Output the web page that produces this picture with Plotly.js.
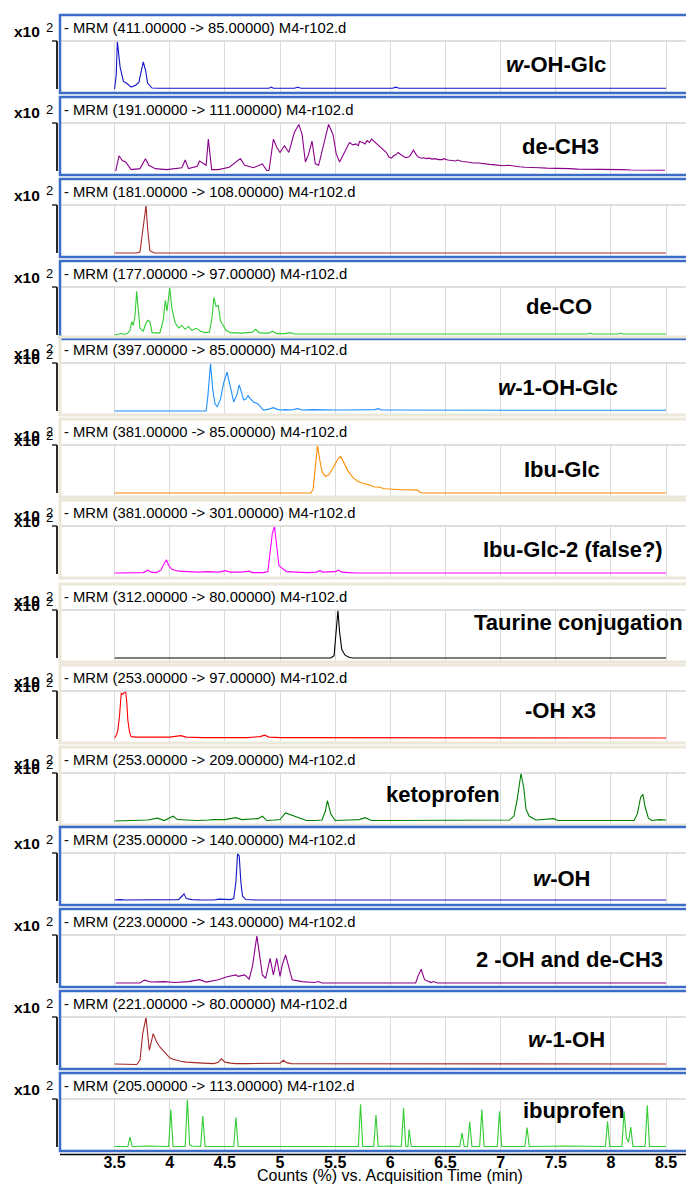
<!DOCTYPE html>
<html>
<head>
<meta charset="utf-8">
<script src="https://cdn.plot.ly/plotly-3.0.1.min.js"></script>
<style>html,body{margin:0;padding:0;background:#fff;}#chart{width:686px;height:1184px;}</style>
</head>
<body>
<div id="chart"></div>
<script>
// ---------------- DATA ----------------
const headers = [
  "- MRM (411.00000 -> 85.00000) M4-r102.d",
  "- MRM (191.00000 -> 111.00000) M4-r102.d",
  "- MRM (181.00000 -> 108.00000) M4-r102.d",
  "- MRM (177.00000 -> 97.00000) M4-r102.d",
  "- MRM (397.00000 -> 85.00000) M4-r102.d",
  "- MRM (381.00000 -> 85.00000) M4-r102.d",
  "- MRM (381.00000 -> 301.00000) M4-r102.d",
  "- MRM (312.00000 -> 80.00000) M4-r102.d",
  "- MRM (253.00000 -> 97.00000) M4-r102.d",
  "- MRM (253.00000 -> 209.00000) M4-r102.d",
  "- MRM (235.00000 -> 140.00000) M4-r102.d",
  "- MRM (223.00000 -> 143.00000) M4-r102.d",
  "- MRM (221.00000 -> 80.00000) M4-r102.d",
  "- MRM (205.00000 -> 113.00000) M4-r102.d"
];
const labels = [
  "<i>w</i>-OH-Glc", "de-CH3", "", "de-CO", "<i>w</i>-1-OH-Glc", "Ibu-Glc",
  "Ibu-Glc-2 (false?)", "Taurine conjugation", "-OH x3", "ketoprofen",
  "<i>w</i>-OH", "2 -OH and de-CH3", "<i>w</i>-1-OH", "ibuprofen"
];
const xTicks = [3.5, 4, 4.5, 5, 5.5, 6, 6.5, 7, 7.5, 8, 8.5];
const xTickText = ["3.5","4","4.5","5","5.5","6","6.5","7","7.5","8","8.5"];
const xTitle = "Counts (%) vs. Acquisition Time (min)";
const scaleText = "x10";
const scaleExp = "2";

// each trace: [time (min), counts (%)]
const p1 = [[3.50,0],[3.515,30],[3.525,100],[3.55,46],[3.58,16],[3.61,12],[3.65,4],[3.69,8],[3.72,14],[3.74,35],[3.76,57],[3.78,40],[3.80,12],[3.84,2],[3.90,1.5],[4.2,1.5],[4.5,1.5],[4.90,1.5],[4.92,4],[4.94,1.5],[5.13,1.5],[5.16,3.5],[5.19,1.5],[5.5,1.5],[6.02,1.5],[6.05,4],[6.08,1.5],[6.5,1.5],[7.0,1.5],[7.5,1.5],[8.0,1.5],[8.5,1.5]];
const p2 = [[3.51,0],[3.54,32],[3.57,22],[3.60,19],[3.65,3],[3.73,5],[3.78,26],[3.81,12],[3.87,5],[3.97,3],[4.11,7],[4.14,23],[4.17,5],[4.25,10],[4.27,21],[4.31,15],[4.33,12],[4.35,67],[4.38,3],[4.44,3],[4.54,8],[4.64,26],[4.68,12],[4.76,7],[4.84,15],[4.88,1],[4.90,1],[4.94,67],[4.97,50],[5.00,39],[5.04,53],[5.08,39],[5.13,81],[5.17,98],[5.20,77],[5.23,19],[5.26,36],[5.29,63],[5.32,15],[5.35,12],[5.38,43],[5.42,81],[5.44,98],[5.48,77],[5.51,36],[5.54,19],[5.58,36],[5.61,52],[5.63,60],[5.66,55],[5.69,57],[5.71,53],[5.72,62],[5.75,60],[5.77,57],[5.79,64],[5.81,60],[5.83,67],[5.85,63],[5.87,57],[5.90,52],[5.93,46],[5.96,40],[5.99,29],[6.01,27],[6.03,32],[6.05,34],[6.07,39],[6.09,35],[6.11,32],[6.14,28],[6.17,30],[6.19,36],[6.21,44],[6.23,36],[6.25,30],[6.28,27],[6.30,28],[6.33,26],[6.35,27],[6.38,25],[6.40,26],[6.44,24],[6.47,24],[6.49,26],[6.52,23],[6.56,22],[6.59,21],[6.61,23],[6.65,20],[6.70,19],[6.75,17],[6.80,17],[6.85,15],[6.90,14],[6.95,13],[7.00,12],[7.02,11],[7.07,12],[7.12,10],[7.17,9],[7.22,8],[7.28,8],[7.35,7],[7.42,6],[7.48,6],[7.54,5],[7.62,5],[7.70,4],[7.75,4],[7.85,4],[7.93,3],[8.02,3],[8.10,3],[8.18,2],[8.25,2],[8.35,2],[8.49,1.5]];
const p3 = [[3.50,0],[3.70,0],[3.73,2],[3.76,60],[3.785,100],[3.80,50],[3.82,5],[3.86,0],[4.5,0],[5.5,0],[6.5,0],[7.5,0],[8.5,0]];
const p4 = [[3.50,0],[3.53,2],[3.56,3],[3.59,1],[3.62,4],[3.64,10],[3.655,28],[3.67,20],[3.685,40],[3.70,92],[3.715,45],[3.73,14],[3.76,8],[3.78,22],[3.80,31],[3.82,28],[3.84,5],[3.87,4],[3.91,4],[3.94,30],[3.96,73],[3.975,50],[3.99,85],[4.00,100],[4.02,55],[4.05,25],[4.08,15],[4.11,20],[4.14,12],[4.17,18],[4.20,10],[4.24,14],[4.28,8],[4.32,5],[4.36,6],[4.385,40],[4.40,79],[4.42,60],[4.44,62],[4.46,30],[4.48,22],[4.51,10],[4.55,5],[4.60,4],[4.65,4],[4.70,5],[4.75,6],[4.78,12],[4.81,5],[4.85,4],[4.90,4],[4.93,8],[4.97,3],[5.05,3],[5.09,5],[5.13,2],[5.2,2],[5.4,2],[5.6,2],[5.8,2],[6.0,2],[6.2,2],[6.5,2],[7.0,2],[7.5,2],[7.79,2],[7.81,4],[7.83,2],[8.07,2],[8.09,4],[8.11,2],[8.5,2]];
const p5 = [[3.5,0],[4.0,0],[4.33,0],[4.345,30],[4.37,100],[4.39,45],[4.41,15],[4.43,9],[4.46,25],[4.49,60],[4.52,82],[4.55,50],[4.58,19],[4.61,35],[4.63,55],[4.65,40],[4.67,23],[4.69,25],[4.71,32],[4.73,26],[4.76,19],[4.80,15],[4.83,6],[4.85,2],[4.90,4],[4.94,7],[4.97,4],[5.00,2],[5.05,3],[5.10,2],[5.16,5],[5.20,2],[5.30,3],[5.40,2],[5.50,2],[5.60,2],[5.70,2],[5.80,2],[5.86,3],[5.89,5],[5.92,2],[6.0,2],[6.5,1.5],[7.0,1.5],[7.5,1.5],[8.0,1.5],[8.5,1.5]];
const p6 = [[3.5,0],[4.5,0],[5.0,0],[5.28,0],[5.30,8],[5.32,60],[5.34,100],[5.36,70],[5.38,45],[5.41,35],[5.44,38],[5.48,52],[5.52,70],[5.55,77],[5.58,62],[5.62,45],[5.66,33],[5.70,25],[5.75,20],[5.80,18],[5.85,13],[5.90,12],[5.95,9],[6.00,8],[6.05,7],[6.10,7],[6.15,7],[6.20,7],[6.25,6],[6.27,1],[6.30,0],[7.0,0],[8.5,0]];
const p7 = [[3.5,2],[3.7,2],[3.76,3],[3.80,8],[3.83,4],[3.88,3],[3.92,8],[3.95,22],[3.97,30],[3.99,18],[4.02,10],[4.08,6],[4.15,5],[4.25,4],[4.35,5],[4.45,4],[4.50,7],[4.55,4],[4.65,4],[4.72,6],[4.75,3],[4.85,3],[4.89,5],[4.91,40],[4.93,85],[4.95,100],[4.97,55],[4.99,18],[5.02,12],[5.06,5],[5.15,4],[5.25,3],[5.33,4],[5.36,7],[5.39,4],[5.50,5],[5.53,8],[5.56,4],[5.62,3],[5.7,2],[6.0,2],[6.5,2],[7.0,2],[7.5,2],[8.0,2],[8.5,2]];
const p8 = [[3.5,0],[5.0,0],[5.46,0],[5.49,5],[5.51,60],[5.525,100],[5.54,55],[5.56,18],[5.59,6],[5.63,1],[5.66,0],[6.5,0],[8.5,0]];
const p9 = [[3.50,2],[3.52,10],[3.53,19],[3.545,50],[3.56,96],[3.575,94],[3.59,99],[3.60,100],[3.61,80],[3.62,40],[3.635,15],[3.65,5],[3.7,4],[3.8,4],[3.9,3],[4.0,4],[4.1,7],[4.15,4],[4.3,3],[4.5,3],[4.7,3],[4.82,5],[4.86,8],[4.9,4],[5.0,3],[5.2,3],[5.5,3],[5.8,2],[6.0,3],[6.5,2],[7.0,2],[7.5,2],[8.0,2],[8.5,2]];
const p10 = [[3.5,0],[3.6,1],[3.7,1],[3.8,2],[3.89,6],[3.95,1],[4.03,10],[4.07,3],[4.15,2],[4.25,1],[4.35,2],[4.40,3],[4.5,3],[4.60,7],[4.65,3],[4.72,4],[4.8,5],[4.84,10],[4.88,1],[4.95,2],[5.0,3],[5.05,17],[5.10,13],[5.16,7],[5.24,1],[5.32,1],[5.38,2],[5.41,20],[5.43,43],[5.46,15],[5.50,1],[5.63,2],[5.72,3],[5.77,7],[5.83,1],[6.0,1],[6.2,1],[6.43,1],[6.7,1],[7.0,1],[7.08,2],[7.12,10],[7.15,45],[7.185,100],[7.21,70],[7.23,25],[7.26,10],[7.32,2],[7.48,5],[7.52,1],[7.8,1],[8.0,1],[8.21,1],[8.24,15],[8.27,50],[8.29,56],[8.31,30],[8.34,6],[8.37,1],[8.44,3],[8.5,2]];
const p11 = [[3.5,2],[3.55,3],[3.6,2],[3.7,2],[3.8,3],[3.9,2],[4.0,2],[4.08,3],[4.11,10],[4.13,15],[4.15,5],[4.2,3],[4.3,2],[4.4,2],[4.45,4],[4.5,3],[4.55,3],[4.58,5],[4.60,40],[4.615,100],[4.63,95],[4.645,40],[4.66,10],[4.69,3],[4.8,2],[5.0,2],[5.5,2],[6.0,2],[6.5,2],[7.0,2],[7.5,2],[8.0,2],[8.5,2]];
const p12 = [[3.51,0],[3.73,0],[3.77,6],[3.83,2],[3.95,3],[4.05,1],[4.17,3],[4.27,7],[4.33,2],[4.44,7],[4.52,13],[4.60,17],[4.62,14],[4.68,17],[4.72,8],[4.75,35],[4.79,99],[4.81,70],[4.84,17],[4.87,10],[4.89,35],[4.91,52],[4.94,17],[4.97,52],[5.00,14],[5.02,38],[5.05,59],[5.08,35],[5.11,7],[5.20,3],[5.31,1],[5.35,3],[5.38,0],[6.23,0],[6.25,14],[6.28,29],[6.31,7],[6.37,1],[6.39,3],[6.43,0],[7.0,0],[8.5,0]];
const p13 = [[3.5,2],[3.58,2],[3.65,1],[3.70,1],[3.73,10],[3.755,66],[3.785,100],[3.815,31],[3.85,66],[3.88,49],[3.91,38],[3.94,30],[3.97,22],[4.0,15],[4.03,12],[4.07,9],[4.1,8],[4.15,6],[4.2,5],[4.3,4],[4.4,3],[4.44,6],[4.47,13],[4.5,6],[4.55,4],[4.6,3],[4.7,3],[4.8,3],[4.9,3],[5.0,4],[5.03,10],[5.06,5],[5.1,3],[5.2,3],[5.3,2],[5.42,3],[5.5,2],[6.0,2],[6.5,2],[7.0,2],[7.5,2],[8.0,2],[8.5,2]];
const p14 = [[3.5,1],[3.62,1],[3.64,21],[3.66,1],[3.8,2],[3.99,1],[4.01,79],[4.03,1],[4.14,1],[4.16,100],[4.18,5],[4.2,2],[4.28,1],[4.30,65],[4.32,1],[4.5,2],[4.58,1],[4.60,62],[4.62,1],[5.0,1],[5.5,2],[5.71,1],[5.73,90],[5.75,1],[5.85,1],[5.87,67],[5.89,1],[6.0,2],[6.10,1],[6.12,82],[6.14,1],[6.16,1],[6.17,37],[6.19,1],[6.4,1],[6.63,1],[6.65,30],[6.67,1],[6.70,1],[6.72,53],[6.74,1],[6.81,1],[6.83,79],[6.85,1],[6.97,1],[6.99,75],[7.01,1],[7.22,1],[7.24,41],[7.26,1],[7.6,2],[7.95,1],[7.97,54],[7.99,1],[8.10,1],[8.12,75],[8.14,20],[8.16,10],[8.18,42],[8.20,1],[8.31,1],[8.33,88],[8.35,1],[8.5,1]];
const series = [p1,p2,p3,p4,p5,p6,p7,p8,p9,p10,p11,p12,p13,p14];

// ---------------- STYLE / LAYOUT ----------------
const colors = ["#1414c8","#8b008b","#a52a2a","#32cd32","#1e90ff","#ff8c00","#ff00ff","#000000","#ff0000","#008000","#1414c8","#8b008b","#a52a2a","#32cd32"];
const blueFrame = [true,true,true,true,false,false,false,false,false,false,true,true,true,true];
const tops = [15,97,179,261,337,419,500,584,665,747,827,909,991,1073];
const labelPos = [[556,64],[560,146],[0,0],[559,306],[558,387],[562,470],[573,549],[578,622],[560,710],[443,794],[561,878],[569,959],[566,1039],[573,1110]];
const W = 686, H = 1184, HDR = 26, PH = 78, LEFT = 60;
const px = v => v / W;
const py = v => 1 - v / H;
const SANS = "Liberation Sans, Arial, sans-serif";

const data = [], shapes = [], annotations = [];
const layout = {
  width: W, height: H, margin: {l:0, r:0, t:0, b:0},
  paper_bgcolor: "#fff", plot_bgcolor: "rgba(0,0,0,0)",
  showlegend: false, hovermode: false,
  font: {family: SANS, color: "#000"}
};

series.forEach((s, i) => {
  const n = i + 1;
  const xa = n === 1 ? "x" : "x" + n;
  const ya = n === 1 ? "y" : "y" + n;
  const T = tops[i];
  data.push({
    x: s.map(d => d[0]), y: s.map(d => d[1]),
    xaxis: xa, yaxis: ya, mode: "lines",
    line: {color: colors[i], width: 1.1}, hoverinfo: "skip"
  });
  const last = i === series.length - 1;
  layout[n === 1 ? "xaxis" : "xaxis" + n] = {
    domain: [px(LEFT), 1], anchor: ya, range: [3.005, 8.681],
    tickvals: xTicks, ticktext: xTickText, showgrid: true, gridcolor: "#dcdcdc", gridwidth: 1,
    zeroline: false, showline: false, ticks: "",
    showticklabels: last, tickfont: {size: 16, weight: "bold", family: SANS, color: "#000"},
    fixedrange: true
  };
  layout[n === 1 ? "yaxis" : "yaxis" + n] = {
    domain: [py(T + PH), py(T + HDR)], anchor: xa, range: [-8.4, 101],
    showgrid: false, zeroline: false, showticklabels: false, showline: false, ticks: "", fixedrange: true
  };
  // header divider
  shapes.push({type: "line", xref: "paper", yref: "paper", x0: px(LEFT), x1: 1.01, y0: py(T + HDR), y1: py(T + HDR), line: {color: "#d4d4d4", width: 1.5}});
  // panel frame
  shapes.push({type: "rect", xref: "paper", yref: "paper", x0: px(LEFT), x1: px(W + 6), y0: py(T + PH), y1: py(T),
    line: {color: blueFrame[i] ? "#3b6cc6" : "#ebe8da", width: blueFrame[i] ? 2.5 : 3}});
  // y bracket
  shapes.push({type: "line", xref: "paper", yref: "paper", x0: px(57), x1: px(57), y0: py(T + 74), y1: py(T + HDR), line: {color: "#2a2a2a", width: 2}});
  shapes.push({type: "line", xref: "paper", yref: "paper", x0: px(52), x1: px(57), y0: py(T + HDR), y1: py(T + HDR), line: {color: "#2a2a2a", width: 1.5}});
  // header text
  annotations.push({xref: "paper", yref: "paper", x: px(62), y: py(T + 13), xanchor: "left", yanchor: "middle",
    text: headers[i], showarrow: false, font: {size: 14.8, color: "#000"}});
  // scale text (x10 ^2); the reference draws it twice, slightly offset, on the grey-framed panels
  const offs = blueFrame[i] ? [0] : [0, 5];
  offs.forEach(o => {
    annotations.push({xref: "paper", yref: "paper", x: px(12), y: py(T + 16 + o), xanchor: "left", yanchor: "middle",
      text: "<b>" + scaleText + "</b>", showarrow: false, font: {size: 15.5, color: "#000"}});
    annotations.push({xref: "paper", yref: "paper", x: px(44), y: py(T + 12 + o), xanchor: "left", yanchor: "middle",
      text: scaleExp, showarrow: false, font: {size: 13, color: "#000"}});
  });
  // label
  if (labels[i]) annotations.push({xref: "paper", yref: "paper", x: px(labelPos[i][0]), y: py(labelPos[i][1]), xanchor: "center", yanchor: "middle",
    text: "<b>" + labels[i] + "</b>", showarrow: false,
    font: {size: 22, color: "#000", family: SANS}});
});
// bottom axis line
shapes.push({type: "line", xref: "paper", yref: "paper", x0: px(LEFT), x1: 1.01, y0: py(1154.5), y1: py(1154.5), line: {color: "#000", width: 1.5}});
annotations.push({xref: "paper", yref: "paper", x: px(390), y: py(1175), xanchor: "center", yanchor: "middle",
  text: xTitle, showarrow: false, font: {size: 16, color: "#000"}});

layout.shapes = shapes;
layout.annotations = annotations;
Plotly.newPlot("chart", data, layout, {staticPlot: true, displayModeBar: false});
</script>
</body>
</html>
